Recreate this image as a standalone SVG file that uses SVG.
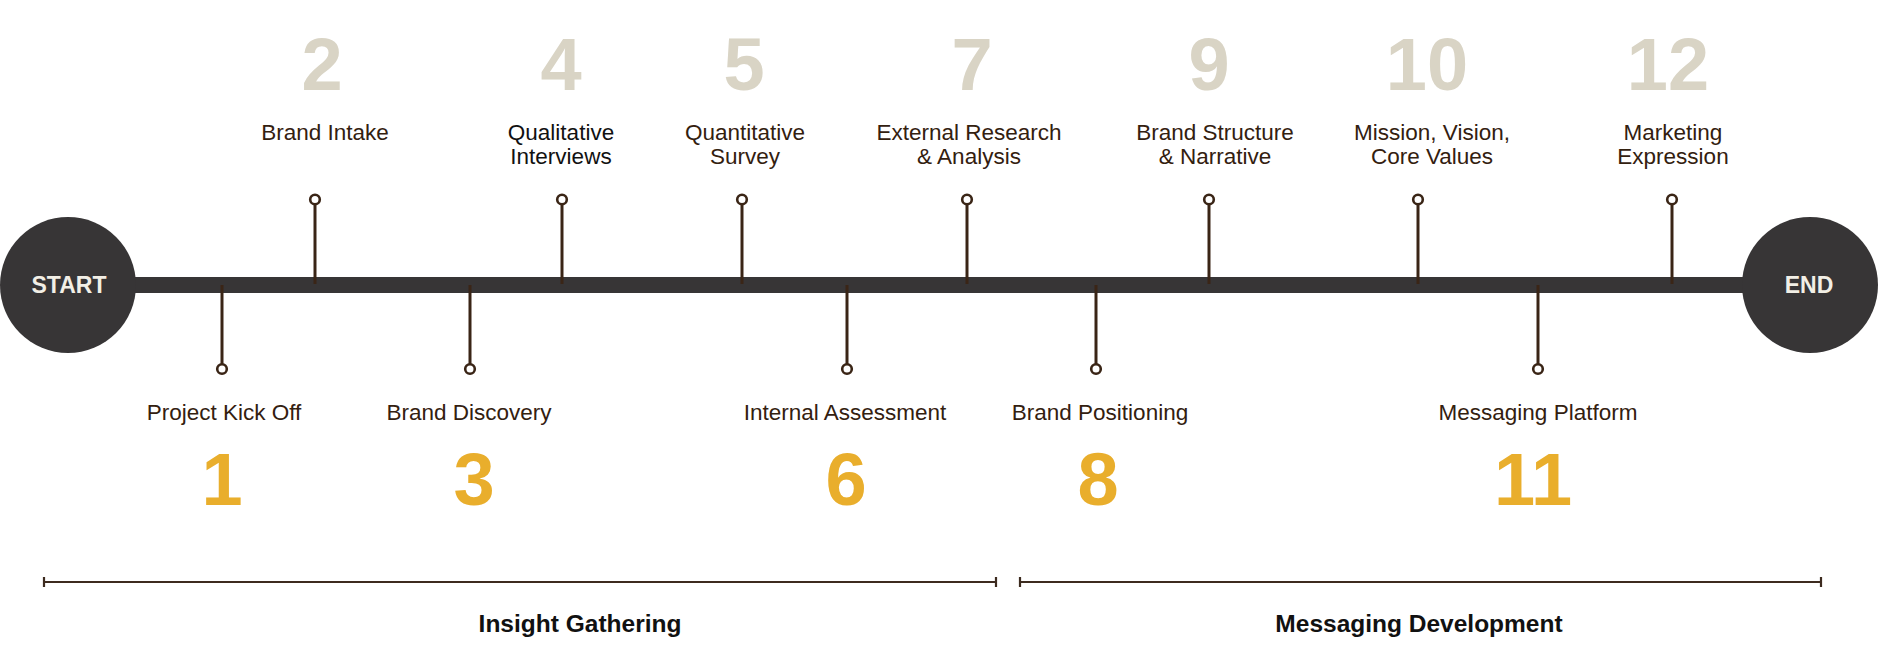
<svg xmlns="http://www.w3.org/2000/svg" width="1878" height="650" viewBox="0 0 1878 650">
<style>
.bg{fill:#ffffff}
.bar{fill:#373536}
.cap{fill:#f2efe6;font-family:"Liberation Sans",Arial,sans-serif;font-weight:bold;font-size:23px;text-anchor:middle}
.pin{stroke:#3a2516;stroke-width:3;fill:none}
.dot{stroke:#3a2516;stroke-width:2.6;fill:#ffffff}
.lbl{fill:#33200f;font-family:"Liberation Sans",Arial,sans-serif;font-size:22.5px;text-anchor:middle}
.numt{fill:#d9d4c5;font-family:"Liberation Sans",Arial,sans-serif;font-weight:bold;font-size:74px;text-anchor:middle}
.numb{fill:#e9ae2c;font-family:"Liberation Sans",Arial,sans-serif;font-weight:bold;font-size:74px;text-anchor:middle}
.brk{stroke:#3d2b1f;stroke-width:2.2;fill:none}
.phase{fill:#111111;font-family:"Liberation Sans",Arial,sans-serif;font-weight:bold;font-size:24.5px;text-anchor:middle}
</style>
<rect class="bg" x="0" y="0" width="1878" height="650"/>
<g id="timeline">
  <rect class="bar" x="120" y="277" width="1640" height="16"/>
</g>
<g id="start">
  <circle class="bar" cx="68" cy="285" r="68"/>
  <text class="cap" x="69" y="293">START</text>
</g>
<g id="end">
  <circle class="bar" cx="1810" cy="285" r="68"/>
  <text class="cap" x="1809" y="293">END</text>
</g>
<g id="connectors">
  <line class="pin" x1="315" y1="205" x2="315" y2="284"/>
  <line class="pin" x1="562" y1="205" x2="562" y2="284"/>
  <line class="pin" x1="742" y1="205" x2="742" y2="284"/>
  <line class="pin" x1="967" y1="205" x2="967" y2="284"/>
  <line class="pin" x1="1209" y1="205" x2="1209" y2="284"/>
  <line class="pin" x1="1418" y1="205" x2="1418" y2="284"/>
  <line class="pin" x1="1672" y1="205" x2="1672" y2="284"/>
  <line class="pin" x1="222" y1="285" x2="222" y2="364"/>
  <line class="pin" x1="470" y1="285" x2="470" y2="364"/>
  <line class="pin" x1="847" y1="285" x2="847" y2="364"/>
  <line class="pin" x1="1096" y1="285" x2="1096" y2="364"/>
  <line class="pin" x1="1538" y1="285" x2="1538" y2="364"/>
</g>
<g id="step1">
  <circle class="dot" cx="222" cy="369" r="4.8"/>
  <text class="lbl" x="224" y="420">Project Kick Off</text>
  <text class="numb" x="222" y="505">1</text>
</g>
<g id="step2">
  <circle class="dot" cx="315" cy="199.5" r="4.8"/>
  <text class="numt" x="322" y="90">2</text>
  <text class="lbl" x="325" y="140">Brand Intake</text>
</g>
<g id="step3">
  <circle class="dot" cx="470" cy="369" r="4.8"/>
  <text class="lbl" x="469" y="420">Brand Discovery</text>
  <text class="numb" x="474" y="505">3</text>
</g>
<g id="step4">
  <circle class="dot" cx="562" cy="199.5" r="4.8"/>
  <text class="numt" x="561" y="90">4</text>
  <text class="lbl" x="561" y="140" style="fill:#111111">Qualitative</text>
  <text class="lbl" x="561" y="164" style="fill:#111111">Interviews</text>
</g>
<g id="step5">
  <circle class="dot" cx="742" cy="199.5" r="4.8"/>
  <text class="numt" x="744" y="90">5</text>
  <text class="lbl" x="745" y="140">Quantitative</text>
  <text class="lbl" x="745" y="164">Survey</text>
</g>
<g id="step6">
  <circle class="dot" cx="847" cy="369" r="4.8"/>
  <text class="lbl" x="845" y="420">Internal Assessment</text>
  <text class="numb" x="846" y="505">6</text>
</g>
<g id="step7">
  <circle class="dot" cx="967" cy="199.5" r="4.8"/>
  <text class="numt" x="972" y="90">7</text>
  <text class="lbl" x="969" y="140">External Research</text>
  <text class="lbl" x="969" y="164">&amp; Analysis</text>
</g>
<g id="step8">
  <circle class="dot" cx="1096" cy="369" r="4.8"/>
  <text class="lbl" x="1100" y="420">Brand Positioning</text>
  <text class="numb" x="1098" y="505">8</text>
</g>
<g id="step9">
  <circle class="dot" cx="1209" cy="199.5" r="4.8"/>
  <text class="numt" x="1209" y="90">9</text>
  <text class="lbl" x="1215" y="140">Brand Structure</text>
  <text class="lbl" x="1215" y="164">&amp; Narrative</text>
</g>
<g id="step10">
  <circle class="dot" cx="1418" cy="199.5" r="4.8"/>
  <text class="numt" x="1427" y="90">10</text>
  <text class="lbl" x="1432" y="140">Mission, Vision,</text>
  <text class="lbl" x="1432" y="164">Core Values</text>
</g>
<g id="step11">
  <circle class="dot" cx="1538" cy="369" r="4.8"/>
  <text class="lbl" x="1538" y="420">Messaging Platform</text>
  <text class="numb" x="1533" y="505">11</text>
</g>
<g id="step12">
  <circle class="dot" cx="1672" cy="199.5" r="4.8"/>
  <text class="numt" x="1668" y="90">12</text>
  <text class="lbl" x="1673" y="140">Marketing</text>
  <text class="lbl" x="1673" y="164">Expression</text>
</g>
<g id="phase-insight">
  <path class="brk" d="M44 582 H996 M44 577 V587 M996 577 V587"/>
  <text class="phase" x="580" y="632">Insight Gathering</text>
</g>
<g id="phase-messaging">
  <path class="brk" d="M1020 582 H1821 M1020 577 V587 M1821 577 V587"/>
  <text class="phase" x="1419" y="632">Messaging Development</text>
</g>
</svg>
